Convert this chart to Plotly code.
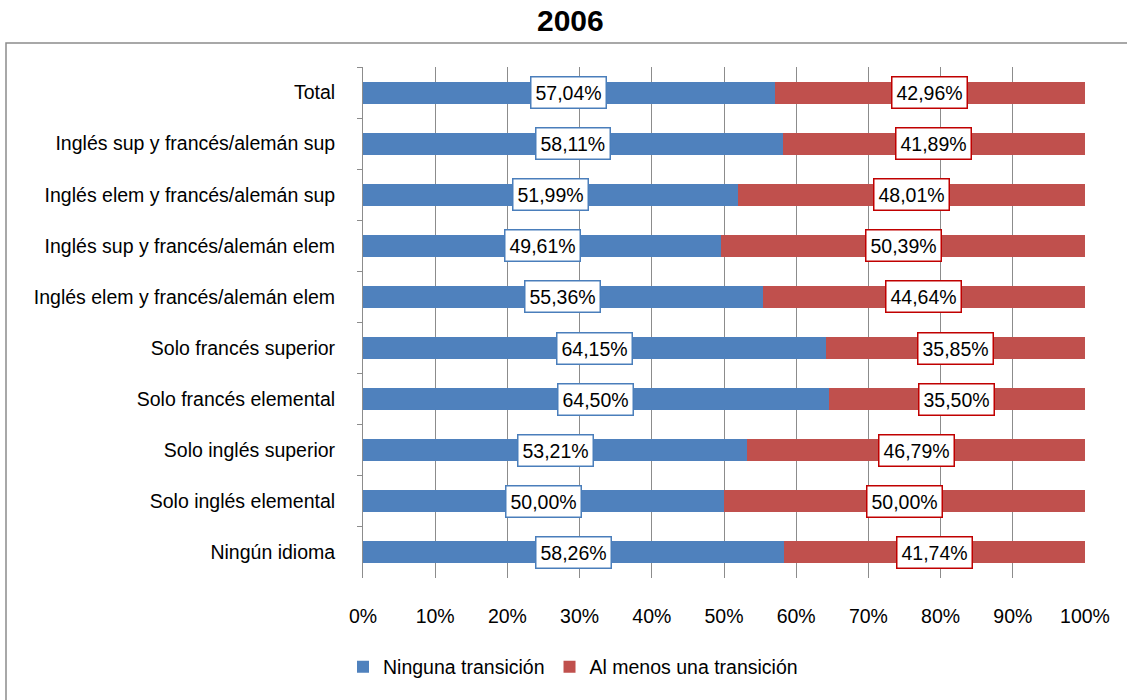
import plotly.graph_objects as go

categories = [
    "Total",
    "Inglés sup y francés/alemán sup",
    "Inglés elem y francés/alemán sup",
    "Inglés sup y francés/alemán elem",
    "Inglés elem y francés/alemán elem",
    "Solo francés superior",
    "Solo francés elemental",
    "Solo inglés superior",
    "Solo inglés elemental",
    "Ningún idioma",
]
ninguna = [57.04, 58.11, 51.99, 49.61, 55.36, 64.15, 64.50, 53.21, 50.00, 58.26]
al_menos = [42.96, 41.89, 48.01, 50.39, 44.64, 35.85, 35.50, 46.79, 50.00, 41.74]
x_ticks = [0, 10, 20, 30, 40, 50, 60, 70, 80, 90, 100]
x_tick_labels = [f"{v}%" for v in x_ticks]

BLUE = "#4F81BD"
RED = "#C0504D"
FONT = "Liberation Sans, Arial, sans-serif"
FS = 19.5

def fmt(v):
    return f"{v:.2f}".replace(".", ",") + "%"

fig = go.Figure()
fig.add_trace(go.Bar(y=categories, x=ninguna, orientation="h", name="Ninguna transición",
                     marker=dict(color=BLUE, line=dict(width=0)), width=0.43))
fig.add_trace(go.Bar(y=categories, x=al_menos, orientation="h", name="Al menos una transición",
                     marker=dict(color=RED, line=dict(width=0)), width=0.43))

annotations = []
for c, a, b in zip(categories, ninguna, al_menos):
    annotations.append(dict(x=a / 2, y=c, xref="x", yref="y", text=fmt(a), showarrow=False,
                            bgcolor="white", bordercolor="#4A7EBB", borderwidth=1.5, borderpad=4,
                            font=dict(size=FS, color="black", family=FONT)))
    annotations.append(dict(x=a + b / 2, y=c, xref="x", yref="y", text=fmt(b), showarrow=False,
                            bgcolor="white", bordercolor="#C00000", borderwidth=1.5, borderpad=4,
                            font=dict(size=FS, color="black", family=FONT)))

L, R, T, B = 363, 42, 67, 122
W, H = 1127, 700
pw, ph = W - L - R, H - T - B

def px_x(p):
    return (p - L) / pw

def px_y(p):
    return (H - B - p) / ph

annotations.append(dict(x=px_x(570), y=px_y(21), xref="paper", yref="paper", text="<b>2006</b>",
                        showarrow=False, xanchor="center", yanchor="middle",
                        font=dict(size=30, color="black", family=FONT)))

fig.update_layout(
    width=W, height=H,
    margin=dict(l=L, r=R, t=T, b=B, pad=0),
    barmode="stack",
    paper_bgcolor="white", plot_bgcolor="white",
    font=dict(family=FONT, size=FS, color="black"),
    showlegend=True,
    legend=dict(orientation="h", x=px_x(573), xanchor="center", y=px_y(667), yanchor="middle",
                font=dict(size=FS, family=FONT), traceorder="normal"),
    annotations=annotations,
    shapes=[dict(type="rect", xref="paper", yref="paper",
                 x0=px_x(6), x1=px_x(1140), y0=px_y(715), y1=px_y(43),
                 line=dict(color="#8C8C8C", width=1.5), fillcolor="rgba(0,0,0,0)", layer="below")],
    xaxis=dict(range=[0, 100], tickvals=x_ticks, ticktext=x_tick_labels,
               showgrid=True, gridcolor="#8C8C8C", gridwidth=1, zeroline=False,
               showline=False, ticks="", ticklabelstandoff=24,
               tickfont=dict(size=FS, family=FONT)),
    yaxis=dict(categoryorder="array", categoryarray=categories, autorange="reversed",
               showline=True, linecolor="#8C8C8C", linewidth=1, ticks="outside", ticklen=5,
               tickcolor="#8C8C8C", tickson="boundaries", ticklabelstandoff=23,
               tickfont=dict(size=FS, family=FONT), showgrid=False),
)

fig.write_html("out.html", config={"displayModeBar": False},
               post_script="document.body.style.margin='0';document.body.style.overflow='hidden';")
